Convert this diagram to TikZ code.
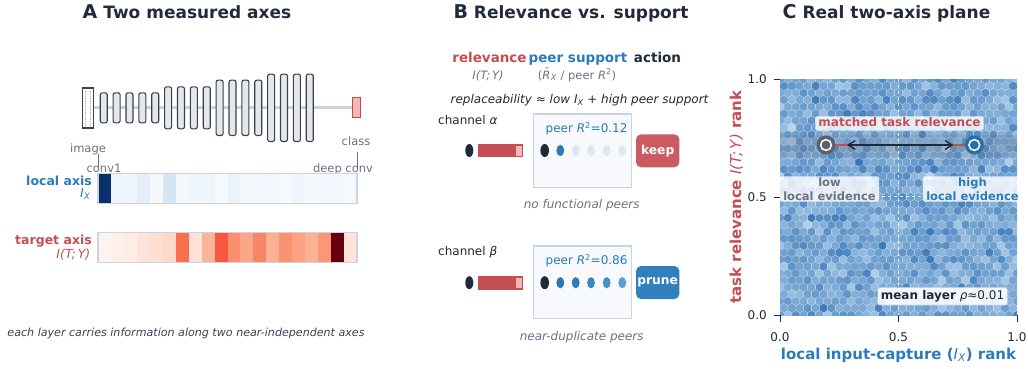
\documentclass[tikz,border=0pt]{standalone}
\usepackage{fontspec}
\setmainfont{DejaVu Sans}
\usetikzlibrary{arrows.meta}
\definecolor{ink}{HTML}{1F2937}
\definecolor{titlec}{HTML}{232B3A}
\definecolor{rel}{HTML}{C44E52}
\definecolor{blu}{HTML}{2B7BBA}
\definecolor{gry}{HTML}{6B7280}
\definecolor{edgec}{HTML}{CBD5E1}
\definecolor{linec}{HTML}{C9D3DF}
\definecolor{barfill}{HTML}{E5E7EB}
\definecolor{barline}{HTML}{374151}
\definecolor{boxfill}{HTML}{F7F9FC}
\definecolor{keepc}{HTML}{C95B61}
\definecolor{prunec}{HTML}{2F80BD}
\definecolor{hexlt}{HTML}{B8D6EE}
\definecolor{hexdk}{HTML}{3373B6}
\definecolor{pale}{HTML}{DCE7F2}
\definecolor{lightred}{HTML}{F2B8B8}
\tikzset{
  ttl/.style={font=\fontsize{17}{19}\selectfont\bfseries, text=titlec, inner sep=0, anchor=base},
  lbl/.style={font=\fontsize{12}{14}\selectfont, inner sep=0, anchor=base},
  small/.style={font=\fontsize{11.5}{13}\selectfont, inner sep=0, anchor=base, text=gry},
  hdr/.style={font=\fontsize{13.5}{16}\selectfont\bfseries, inner sep=0, anchor=base},
  convbar/.style={fill=barfill, draw=barline, line width=1.1pt, rounded corners=2pt},
  peerbox/.style={fill=boxfill, draw=edgec, line width=1.3pt},
  btn/.style={rounded corners=5pt, minimum width=43.3pt, minimum height=33pt, inner sep=0, text=white, font=\fontsize{12.3}{14}\selectfont\bfseries},
  tagbox/.style={fill=white, fill opacity=0.8, text opacity=1, inner xsep=3pt, inner ysep=1.5pt, rounded corners=1.5pt},
}
\begin{document}
\begin{tikzpicture}[x=1pt,y=-1pt]
\useasboundingbox (0,0) rectangle (1028,368);

% ---------------- Panel A ----------------
\node[ttl] (tA) at (187,18) {{\fontsize{19}{20}\selectfont A} Two measured axes};

\draw[linec, line width=3pt] (88,107.8) -- (356,107.8);
\node[draw=barline, fill=white, line width=1.4pt, minimum width=11pt, minimum height=40pt, inner sep=0] (img) at (87.8,108) {};
\draw[gray!60, densely dotted, line width=0.8pt] (85.2,90.5) -- (85.2,125.5) (90.4,90.5) -- (90.4,125.5);
\foreach \i in {0,...,16}{
  \pgfmathsetmacro\h{\i<5 ? 15 : (\i<9 ? 21 : (\i<13 ? 27.65 : 33.65))}
  \draw[convbar] ({103.7+12.88*\i-3.5},{107.8-\h}) rectangle ++(7,{2*\h});
}
\node[draw=rel!90!red, fill=lightred, line width=1.1pt, minimum width=8.4pt, minimum height=20pt, inner sep=0] (cls) at (356.5,107.7) {};

\node[small] (limg) at (88,152) {image};
\node[small] (lcls) at (356,145) {class};
\draw[gry, line width=0.8pt] (98,154) -- (98,168);
\draw[gry, line width=0.8pt] (357,152) -- (357,168);
\node[small] (lc1) at (104,172.5) {conv1};
\node[small] (ldc) at (343,172.5) {deep conv};

% local heatmap
\foreach \c [count=\k from 0] in {08306B,EDF4FB,EFF5FC,E3EEF8,F4F8FD,D5E5F4,F3F8FD,EEF5FC,EEF5FC,F4F9FE,EAF2FA,F3F8FD,F2F7FD,F0F6FC,F6FAFE,EFF5FC,F4F9FE,F2F7FD,F4F8FD,F5F9FE}{
  \definecolor{cellc}{HTML}{\c}
  \fill[cellc] ({98+12.95*\k},173.3) rectangle ++(12.96,30);
}
\draw[edgec, line width=1.3pt] (98,173.3) rectangle (357,203.3);
% target heatmap
\foreach \c [count=\k from 0] in {FFF3EE,FEEFE8,FDEDE5,FDE4DA,FDE0D2,FCD9CB,FB6E4F,FEE2D5,FCB398,F8583E,FC8F70,FCA588,FB8464,FCB194,FC9272,FCA386,FCB195,FB9676,67000D,FEE3D6}{
  \definecolor{cellc}{HTML}{\c}
  \fill[cellc] ({98+12.95*\k},232.7) rectangle ++(12.96,30);
}
\draw[edgec, line width=1.3pt] (98,232.7) rectangle (357,262.7);

\node[lbl, anchor=base east, text=blu, font=\fontsize{12.5}{14}\selectfont\bfseries] (lloc) at (92,185) {local axis};
\node[lbl, anchor=base east, text=blu, font=\fontsize{12.5}{14}\selectfont] (llocs) at (90.5,197.5) {\itshape I\textsubscript{X}};
\node[lbl, anchor=base east, text=rel, font=\fontsize{12.5}{14}\selectfont\bfseries] (ltar) at (92,244) {target axis};
\node[lbl, anchor=base east, text=rel, font=\fontsize{12.5}{14}\selectfont] (ltars) at (90.5,258.5) {\itshape I(T;\,Y)};

\node[lbl, text=barline, font=\fontsize{11.1}{13}\selectfont\itshape] (capA) at (186,336.5) {each layer carries information along two near-independent axes};

% ---------------- Panel B ----------------
\node[ttl] (tB) at (571,18) {{\fontsize{19}{20}\selectfont B} Relevance vs. support};
\node[hdr, text=rel] (hrel) at (489.5,62) {relevance};
\node[hdr, text=blu] (hpeer) at (578,62) {peer support};
\node[hdr, text=ink] (hact) at (657.5,62) {action};
\node[small] (srel) at (488,79) {\itshape I(T;\,Y)};
\node[small] (speer) at (577,79) {(\textit{R̄}\textsubscript{\textit{X}} / peer \textit{R}\textsuperscript{2})};
\node[lbl, text=ink, font=\fontsize{12}{14}\selectfont\itshape] (repl) at (579.5,103.5) {replaceability ≈ low I\textsubscript{X} + high peer support};

% channel alpha
\node[lbl, anchor=base west, text=ink] (cha) at (438,124.5) {channel \textit{α}};
\fill[ink] (469.3,150.5) ellipse (4pt and 6.5pt);
\fill[rel] (478,144) rectangle (523.3,157.3);
\fill[lightred] (516,145.7) rectangle (522,155.7);
\node[peerbox, minimum width=98.4pt, minimum height=73.3pt, inner sep=0] (pa) at (582.5,150.7) {};
\node[lbl, anchor=base east, text=blu] (pra) at (627.7,132.5) {peer \textit{R}\textsuperscript{2}=0.12};
\fill[ink] (544.7,150.5) ellipse (4.3pt and 6.5pt);
\fill[blu] (560.3,150.5) ellipse (3.9pt and 5.6pt);
\foreach \x in {575.7,591,606.7,622.3}{\fill[pale] (\x,150.5) ellipse (3.9pt and 5.6pt);}
\node[btn, fill=keepc] (keep) at (657.7,150.8) {keep};
\node[lbl, text=gry, font=\fontsize{12}{14}\selectfont\itshape] (nfp) at (581.7,208.3) {no functional peers};

% channel beta
\node[lbl, anchor=base west, text=ink] (chb) at (438,255.3) {channel \textit{β}};
\fill[ink] (469.3,282.7) ellipse (4pt and 6.5pt);
\fill[rel] (478,276.2) rectangle (523.3,289.5);
\fill[lightred] (516,277.9) rectangle (522,287.9);
\node[peerbox, minimum width=98.4pt, minimum height=72.7pt, inner sep=0] (pb) at (582.5,282.4) {};
\node[lbl, anchor=base east, text=blu] (prb) at (627.7,264.5) {peer \textit{R}\textsuperscript{2}=0.86};
\fill[ink] (544.7,282.7) ellipse (4.3pt and 6.5pt);
\foreach \x/\c in {560.3/2A77B4,575.7/2E7DBA,591/3A87C2,606.7/4891C8,622.3/5B9FD0}{\definecolor{dc}{HTML}{\c}\fill[dc] (\x,282.7) ellipse (3.9pt and 5.6pt);}
\node[btn, fill=prunec] (prune) at (657.7,282.5) {prune};
\node[lbl, text=gry, font=\fontsize{12}{14}\selectfont\itshape] (ndp) at (581.7,340.3) {near-duplicate peers};

% ---------------- Panel C ----------------
\node[ttl] (tC) at (886.5,18) {{\fontsize{19}{20}\selectfont C} Real two-axis plane};
\begin{scope}
\clip (780,79.3) rectangle (1017,315);
\pgfmathsetseed{17}
\foreach \i in {0,...,30}{
  \foreach \j in {0,...,17}{
    \pgfmathsetmacro\p{int(100*(rnd+rnd+rnd)/3)}
    \path[fill=hexdk!\p!hexlt, draw=white, draw opacity=0.3, line width=0.4pt, shift={({780+7.9*\i},{315-13.88*\j})}]
      (3.95,2.31) -- (0,4.63) -- (-3.95,2.31) -- (-3.95,-2.31) -- (0,-4.63) -- (3.95,-2.31) -- cycle;
  }
}
\foreach \i in {0,...,29}{
  \foreach \j in {0,...,16}{
    \pgfmathsetmacro\p{int(100*(rnd+rnd+rnd)/3)}
    \path[fill=hexdk!\p!hexlt, draw=white, draw opacity=0.3, line width=0.4pt, shift={({780+7.9*(\i+0.5)},{315-13.88*(\j+0.5)})}]
      (3.95,2.31) -- (0,4.63) -- (-3.95,2.31) -- (-3.95,-2.31) -- (0,-4.63) -- (3.95,-2.31) -- cycle;
  }
}
\fill[gry, opacity=0.22] (780,135) rectangle (1017,156.7);
\draw[white, dashed, line width=1pt, opacity=0.85] (898.5,79.3) -- (898.5,315);
\draw[white, dashed, line width=1pt, opacity=0.85] (780,196.5) -- (1017,196.5);
\end{scope}

% axes ticks
\foreach \y/\t in {79.3/1.0,197.2/0.5,315/0.0}{
  \draw[ink, line width=1pt] (773.5,\y) -- (780,\y);
  \node[lbl, anchor=base east, text=ink] at (767,{\y+4.3}) {\t};
}
\foreach \x/\t in {780/0.0,898.5/0.5,1017/1.0}{
  \draw[ink, line width=1pt] (\x,315) -- (\x,321.5);
  \node[lbl, text=ink] at (\x,341) {\t};
}
\node[lbl, text=blu, font=\fontsize{15}{17}\selectfont\bfseries] (xl) at (898.5,359) {local input-capture ({\mdseries\itshape I\textsubscript{X}}) rank};
\node[lbl, text=rel, font=\fontsize{15}{17}\selectfont\bfseries, rotate=90] (yl) at (741,197.2) {task relevance {\mdseries\itshape I(T;\,Y)} rank};

% matched pair
\coordinate (lo) at (826,145);
\coordinate (hi) at (974.3,145);
\draw[rel, line width=2pt] (lo) -- (hi);
\draw[ink, line width=1.4pt, {Straight Barb[length=7pt,width=9pt]}-{Straight Barb[length=7pt,width=9pt]}, shorten <=21pt, shorten >=21pt] (lo) -- (hi);
\node[circle, fill=gry!85!black, minimum size=19pt, inner sep=0] (loc) at (lo) {};
\draw[white, line width=1.5pt] (lo) circle (5.4pt);
\node[circle, fill=blu!90!black, minimum size=19pt, inner sep=0] (hic) at (hi) {};
\draw[white, line width=1.5pt] (hi) circle (5.4pt);

\node[tagbox, text=rel, font=\fontsize{12}{14}\selectfont\bfseries, text height=8.8pt, text depth=2.5pt] (mtr) at (899.5,123.4) {matched task relevance};
\node[tagbox, text=gry, font=\fontsize{11.5}{13.5}\selectfont\bfseries, align=center, minimum width=99pt] (lowev) at (829.5,189) {low\\local evidence};
\node[tagbox, text=blu, font=\fontsize{11.5}{13.5}\selectfont\bfseries, align=center, minimum width=99pt] (highev) at (972.5,189) {high\\local evidence};
\node[tagbox, draw=edgec, line width=0.6pt, fill opacity=0.9, text=ink, font=\fontsize{12}{14}\selectfont, text height=8.8pt, text depth=2.5pt, inner ysep=3pt] (mean) at (942.5,296.3) {\textbf{mean layer} \textit{ρ}≈0.01};
\end{tikzpicture}
\end{document}
